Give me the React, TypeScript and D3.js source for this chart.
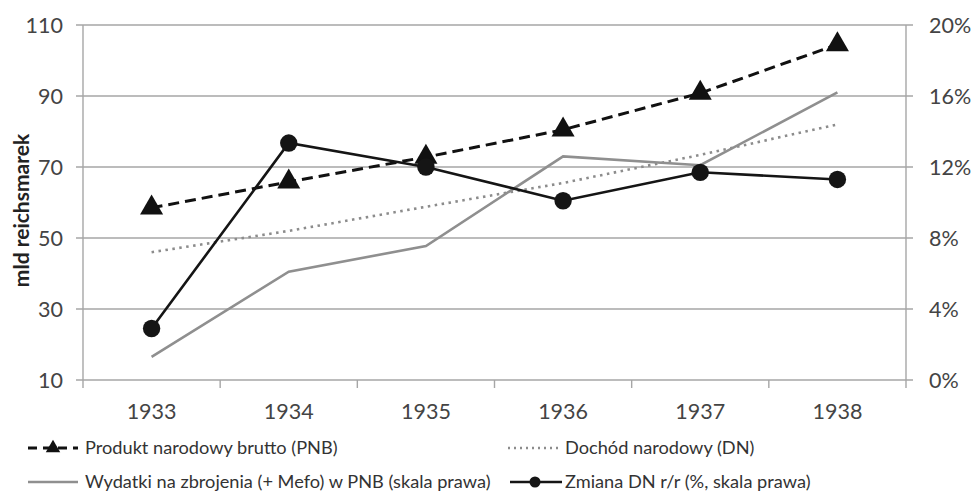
import React from "react";
import * as d3 from "d3";

const years = ["1933", "1934", "1935", "1936", "1937", "1938"];
const pnb = [58.5, 65.8, 72.8, 80.5, 90.8, 104.5];
const dn = [46, 52, 58.8, 65.5, 73.4, 82];
const wydatki = [1.3, 6.1, 7.55, 12.6, 12.1, 16.2];
const zmiana = [2.9, 13.35, 12.0, 10.1, 11.7, 11.3];
const leftTicks = [10, 30, 50, 70, 90, 110];
const rightTicks = [0, 4, 8, 12, 16, 20];

const W = 973;
const H = 495;
const L = 83;
const R = 906;
const T = 25;
const B = 380;
const FONT = "Lato, 'Open Sans', sans-serif";
const GRID = "#a6a6a6";

export default function App() {
  const x = d3.scaleBand<string>().domain(years).range([L, R]).padding(0);
  const cx = (d: string) => (x(d) as number) + x.bandwidth() / 2;
  const yL = d3.scaleLinear().domain([10, 110]).range([B, T]);
  const yR = d3.scaleLinear().domain([0, 20]).range([B, T]);

  const lineL = d3
    .line<number>()
    .x((_, i) => cx(years[i]))
    .y((v) => yL(v));
  const lineR = d3
    .line<number>()
    .x((_, i) => cx(years[i]))
    .y((v) => yR(v));

  const tri = d3.symbol().type(d3.symbolTriangle).size(230)();
  const r1 = 448;
  const r2 = 482;

  return (
    <svg width={W} height={H} style={{ display: "block", position: "absolute", left: 0, top: 0 }} fontFamily={FONT}>
      <rect x={0} y={0} width={W} height={H} fill="#fff" />
      {leftTicks.map((t) => (
        <line key={"g" + t} x1={L - 7} x2={R + 7} y1={yL(t)} y2={yL(t)} stroke={GRID} strokeWidth={1.4} />
      ))}
      <line x1={L} x2={L} y1={T} y2={B} stroke={GRID} strokeWidth={1.4} />
      <line x1={R} x2={R} y1={T} y2={B} stroke={GRID} strokeWidth={1.4} />
      {d3.range(years.length + 1).map((i) => {
        const xx = L + i * x.bandwidth();
        return <line key={"xt" + i} x1={xx} x2={xx} y1={B} y2={B + 8} stroke={GRID} strokeWidth={1.4} />;
      })}
      {leftTicks.map((t) => (
        <text key={"lt" + t} x={63} y={yL(t)} dy="0.35em" textAnchor="end" fontSize={21.5} fill="#444">
          {t}
        </text>
      ))}
      {rightTicks.map((t) => (
        <text key={"rt" + t} x={929} y={yR(t)} dy="0.35em" textAnchor="start" fontSize={21.5} fill="#444">
          {t + "%"}
        </text>
      ))}
      {years.map((yr) => (
        <text key={"yr" + yr} x={cx(yr)} y={411} dy="0.35em" textAnchor="middle" fontSize={21.5} fill="#444">
          {yr}
        </text>
      ))}
      <text
        transform={`translate(22,${(T + B) / 2 + 8}) rotate(-90)`}
        textAnchor="middle"
        dy="0.35em"
        fontSize={21}
        fontWeight="bold"
        fill="#222"
      >
        mld reichsmarek
      </text>

      <path d={lineL(pnb) as string} fill="none" stroke="#111" strokeWidth={3} strokeDasharray="11,6" />
      {pnb.map((v, i) => (
        <path key={"tri" + i} d={tri as string} transform={`translate(${cx(years[i])},${yL(v)})`} fill="#111" />
      ))}
      <path d={lineL(dn) as string} fill="none" stroke="#8c8c8c" strokeWidth={2.6} strokeDasharray="2.5,4.5" />
      <path d={lineR(wydatki) as string} fill="none" stroke="#8f8f8f" strokeWidth={2.6} />
      <path d={lineR(zmiana) as string} fill="none" stroke="#151515" strokeWidth={2.6} />
      {zmiana.map((v, i) => (
        <circle key={"c" + i} cx={cx(years[i])} cy={yR(v)} r={8.7} fill="#151515" />
      ))}

      <g fontSize={18.2} fill="#333">
        <line x1={28} x2={78} y1={r1} y2={r1} stroke="#111" strokeWidth={3} strokeDasharray="9,6" />
        <path d={d3.symbol().type(d3.symbolTriangle).size(90)() as string} transform={`translate(53,${r1})`} fill="#111" />
        <text x={85} y={r1} dy="0.35em">Produkt narodowy brutto (PNB)</text>

        <line x1={508} x2={560} y1={r1} y2={r1} stroke="#8c8c8c" strokeWidth={2.4} strokeDasharray="2,4" />
        <text x={565} y={r1} dy="0.35em">Dochód narodowy (DN)</text>

        <line x1={28} x2={78} y1={r2} y2={r2} stroke="#8f8f8f" strokeWidth={2.6} />
        <text x={85} y={r2} dy="0.35em">Wydatki na zbrojenia (+ Mefo) w PNB (skala prawa)</text>

        <line x1={510} x2={562} y1={r2} y2={r2} stroke="#151515" strokeWidth={2.6} />
        <circle cx={535} cy={r2} r={5.5} fill="#151515" />
        <text x={565} y={r2} dy="0.35em">Zmiana DN r/r (%, skala prawa)</text>
      </g>
    </svg>
  );
}
